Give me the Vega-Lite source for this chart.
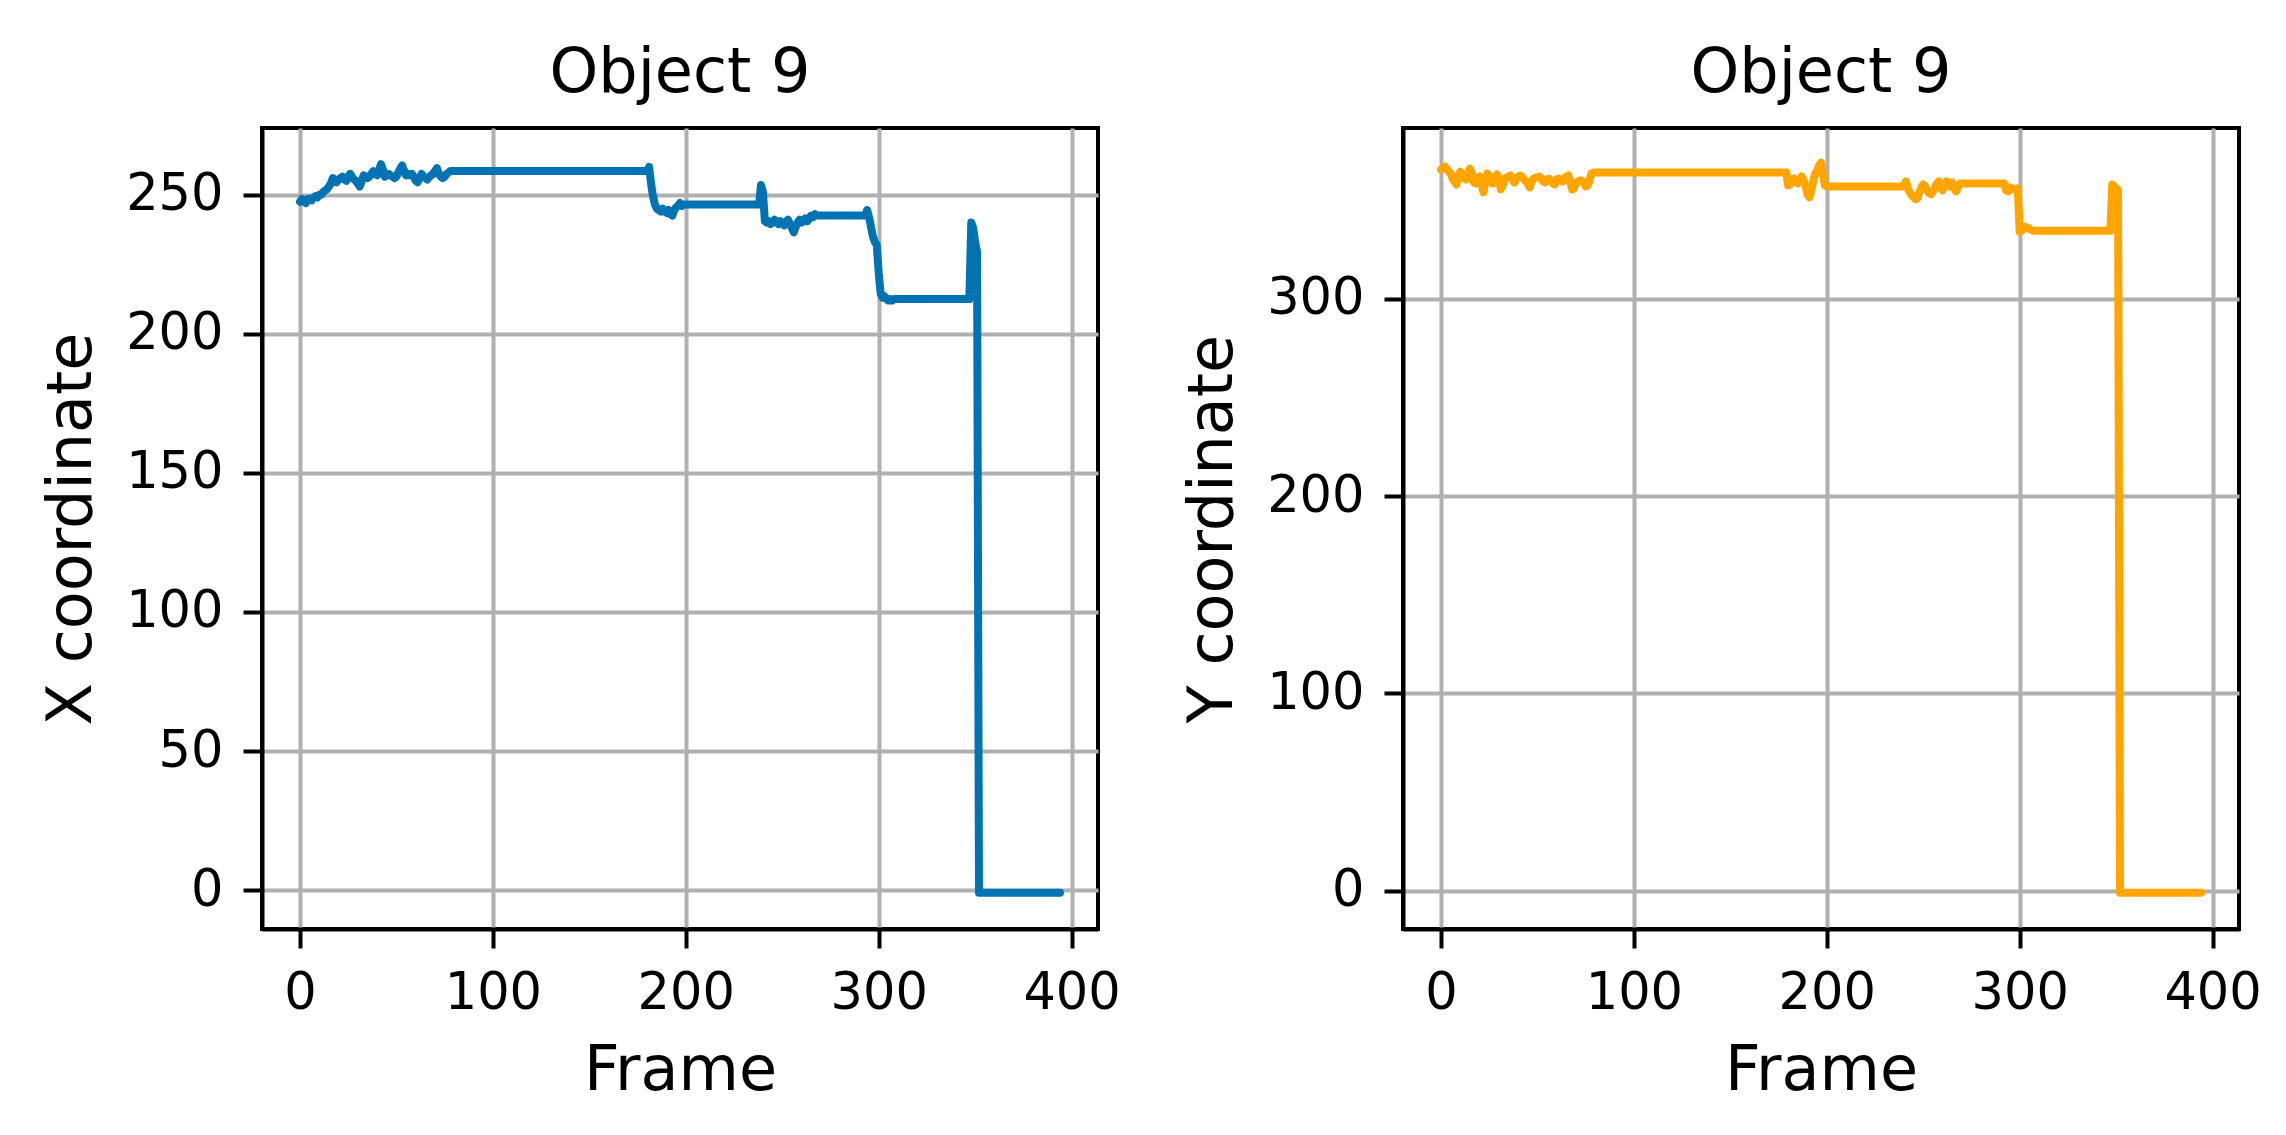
{
  "$schema": "https://vega.github.io/schema/vega-lite/v6.json",
  "background": "white",
  "padding": {"left": 38, "top": 40, "right": 0, "bottom": 0},
  "bounds": "flush",
  "spacing": 305,
  "data": {"values": [
    {"f":0,"x":247.5,"y":365.5},{"f":1,"x":248.5,"y":366},{"f":2,"x":248,"y":367},{"f":3,"x":247,"y":366},{"f":4,"x":248.5,"y":364.5},
    {"f":5,"x":248.5,"y":363.5},{"f":6,"x":248,"y":361},{"f":7,"x":249,"y":359.5},{"f":8,"x":249.5,"y":358},{"f":9,"x":249,"y":362},
    {"f":10,"x":250,"y":364.5},{"f":11,"x":250,"y":363.5},{"f":12,"x":251,"y":361},{"f":13,"x":251.5,"y":360.5},{"f":14,"x":252,"y":364},
    {"f":15,"x":253,"y":366},{"f":16,"x":254,"y":363.5},{"f":17,"x":256,"y":359},{"f":18,"x":255.5,"y":358.5},{"f":19,"x":254.5,"y":361.5},
    {"f":20,"x":255.5,"y":362},{"f":21,"x":256,"y":358},{"f":22,"x":256.5,"y":354},{"f":23,"x":255.5,"y":359},{"f":24,"x":255,"y":363.5},
    {"f":25,"x":256.5,"y":362.5},{"f":26,"x":257.5,"y":359},{"f":27,"x":256.5,"y":358.5},{"f":28,"x":255.5,"y":361.5},{"f":29,"x":255,"y":363},
    {"f":30,"x":254,"y":361},{"f":31,"x":253,"y":355.5},{"f":32,"x":255,"y":357.5},{"f":33,"x":257,"y":361},{"f":34,"x":256.5,"y":361.5},
    {"f":35,"x":256,"y":362},{"f":36,"x":256.5,"y":362.5},{"f":37,"x":257.5,"y":360.5},{"f":38,"x":258.5,"y":359},{"f":39,"x":257.5,"y":360.5},
    {"f":40,"x":257,"y":362},{"f":41,"x":259,"y":362.5},{"f":42,"x":261,"y":362},{"f":43,"x":259,"y":360.5},{"f":44,"x":256.5,"y":359.5},
    {"f":45,"x":257,"y":358.5},{"f":46,"x":257.5,"y":356.5},{"f":47,"x":257,"y":359.5},{"f":48,"x":256.5,"y":361},{"f":49,"x":256,"y":361.5},
    {"f":50,"x":256.5,"y":361.5},{"f":51,"x":258,"y":362},{"f":52,"x":259.5,"y":361},{"f":53,"x":260.5,"y":359.5},{"f":54,"x":258.5,"y":359},
    {"f":55,"x":257,"y":360.5},{"f":56,"x":257.5,"y":361},{"f":57,"x":257,"y":360},{"f":58,"x":257.5,"y":358.5},{"f":59,"x":256.5,"y":358},
    {"f":60,"x":255,"y":360.5},{"f":61,"x":254.5,"y":361},{"f":62,"x":256,"y":360},{"f":63,"x":257.5,"y":359.5},{"f":64,"x":256.5,"y":361},
    {"f":65,"x":256,"y":362},{"f":66,"x":255.5,"y":362.5},{"f":67,"x":256.5,"y":359},{"f":68,"x":257,"y":355.5},{"f":69,"x":257.5,"y":356},
    {"f":70,"x":258.5,"y":359},{"f":71,"x":259.5,"y":359.5},{"f":72,"x":257.5,"y":360},{"f":73,"x":256.5,"y":360},{"f":74,"x":256,"y":358.5},
    {"f":75,"x":256.5,"y":357},{"f":76,"x":257.5,"y":357.5},{"f":77,"x":258,"y":360},{"f":78,"x":258.5,"y":363.5},{"f":79,"x":258.5,"y":364},
    {"f":80,"x":258.5,"y":364},{"f":81,"x":258.5,"y":364},{"f":82,"x":258.5,"y":364},{"f":83,"x":258.5,"y":364},{"f":84,"x":258.5,"y":364},
    {"f":85,"x":258.5,"y":364},{"f":86,"x":258.5,"y":364},{"f":87,"x":258.5,"y":364},{"f":88,"x":258.5,"y":364},{"f":89,"x":258.5,"y":364},
    {"f":90,"x":258.5,"y":364},{"f":91,"x":258.5,"y":364},{"f":92,"x":258.5,"y":364},{"f":93,"x":258.5,"y":364},{"f":94,"x":258.5,"y":364},
    {"f":95,"x":258.5,"y":364},{"f":96,"x":258.5,"y":364},{"f":97,"x":258.5,"y":364},{"f":98,"x":258.5,"y":364},{"f":99,"x":258.5,"y":364},
    {"f":100,"x":258.5,"y":364},{"f":101,"x":258.5,"y":364},{"f":102,"x":258.5,"y":364},{"f":103,"x":258.5,"y":364},{"f":104,"x":258.5,"y":364},
    {"f":105,"x":258.5,"y":364},{"f":106,"x":258.5,"y":364},{"f":107,"x":258.5,"y":364},{"f":108,"x":258.5,"y":364},{"f":109,"x":258.5,"y":364},
    {"f":110,"x":258.5,"y":364},{"f":111,"x":258.5,"y":364},{"f":112,"x":258.5,"y":364},{"f":113,"x":258.5,"y":364},{"f":114,"x":258.5,"y":364},
    {"f":115,"x":258.5,"y":364},{"f":116,"x":258.5,"y":364},{"f":117,"x":258.5,"y":364},{"f":118,"x":258.5,"y":364},{"f":119,"x":258.5,"y":364},
    {"f":120,"x":258.5,"y":364},{"f":121,"x":258.5,"y":364},{"f":122,"x":258.5,"y":364},{"f":123,"x":258.5,"y":364},{"f":124,"x":258.5,"y":364},
    {"f":125,"x":258.5,"y":364},{"f":126,"x":258.5,"y":364},{"f":127,"x":258.5,"y":364},{"f":128,"x":258.5,"y":364},{"f":129,"x":258.5,"y":364},
    {"f":130,"x":258.5,"y":364},{"f":131,"x":258.5,"y":364},{"f":132,"x":258.5,"y":364},{"f":133,"x":258.5,"y":364},{"f":134,"x":258.5,"y":364},
    {"f":135,"x":258.5,"y":364},{"f":136,"x":258.5,"y":364},{"f":137,"x":258.5,"y":364},{"f":138,"x":258.5,"y":364},{"f":139,"x":258.5,"y":364},
    {"f":140,"x":258.5,"y":364},{"f":141,"x":258.5,"y":364},{"f":142,"x":258.5,"y":364},{"f":143,"x":258.5,"y":364},{"f":144,"x":258.5,"y":364},
    {"f":145,"x":258.5,"y":364},{"f":146,"x":258.5,"y":364},{"f":147,"x":258.5,"y":364},{"f":148,"x":258.5,"y":364},{"f":149,"x":258.5,"y":364},
    {"f":150,"x":258.5,"y":364},{"f":151,"x":258.5,"y":364},{"f":152,"x":258.5,"y":364},{"f":153,"x":258.5,"y":364},{"f":154,"x":258.5,"y":364},
    {"f":155,"x":258.5,"y":364},{"f":156,"x":258.5,"y":364},{"f":157,"x":258.5,"y":364},{"f":158,"x":258.5,"y":364},{"f":159,"x":258.5,"y":364},
    {"f":160,"x":258.5,"y":364},{"f":161,"x":258.5,"y":364},{"f":162,"x":258.5,"y":364},{"f":163,"x":258.5,"y":364},{"f":164,"x":258.5,"y":364},
    {"f":165,"x":258.5,"y":364},{"f":166,"x":258.5,"y":364},{"f":167,"x":258.5,"y":364},{"f":168,"x":258.5,"y":364},{"f":169,"x":258.5,"y":364},
    {"f":170,"x":258.5,"y":364},{"f":171,"x":258.5,"y":364},{"f":172,"x":258.5,"y":364},{"f":173,"x":258.5,"y":364},{"f":174,"x":258.5,"y":364},
    {"f":175,"x":258.5,"y":364},{"f":176,"x":258.5,"y":364},{"f":177,"x":258.5,"y":364},{"f":178,"x":258.5,"y":364},{"f":179,"x":258.5,"y":364},
    {"f":180,"x":258.5,"y":357.5},{"f":181,"x":260,"y":358},{"f":182,"x":254,"y":360.5},{"f":183,"x":249.5,"y":361},{"f":184,"x":246.5,"y":359.5},
    {"f":185,"x":245,"y":358.5},{"f":186,"x":244.5,"y":360},{"f":187,"x":244,"y":362},{"f":188,"x":245,"y":360},{"f":189,"x":244,"y":357},
    {"f":190,"x":243.5,"y":353},{"f":191,"x":244.5,"y":351.5},{"f":192,"x":243,"y":355},{"f":193,"x":242.5,"y":360},{"f":194,"x":244.5,"y":363.5},
    {"f":195,"x":245.5,"y":365},{"f":196,"x":246,"y":367.5},{"f":197,"x":247,"y":369},{"f":198,"x":246,"y":363},{"f":199,"x":246.5,"y":357.5},
    {"f":200,"x":246.5,"y":357},{"f":201,"x":246.5,"y":357},{"f":202,"x":246.5,"y":357},{"f":203,"x":246.5,"y":357},{"f":204,"x":246.5,"y":357},
    {"f":205,"x":246.5,"y":357},{"f":206,"x":246.5,"y":357},{"f":207,"x":246.5,"y":357},{"f":208,"x":246.5,"y":357},{"f":209,"x":246.5,"y":357},
    {"f":210,"x":246.5,"y":357},{"f":211,"x":246.5,"y":357},{"f":212,"x":246.5,"y":357},{"f":213,"x":246.5,"y":357},{"f":214,"x":246.5,"y":357},
    {"f":215,"x":246.5,"y":357},{"f":216,"x":246.5,"y":357},{"f":217,"x":246.5,"y":357},{"f":218,"x":246.5,"y":357},{"f":219,"x":246.5,"y":357},
    {"f":220,"x":246.5,"y":357},{"f":221,"x":246.5,"y":357},{"f":222,"x":246.5,"y":357},{"f":223,"x":246.5,"y":357},{"f":224,"x":246.5,"y":357},
    {"f":225,"x":246.5,"y":357},{"f":226,"x":246.5,"y":357},{"f":227,"x":246.5,"y":357},{"f":228,"x":246.5,"y":357},{"f":229,"x":246.5,"y":357},
    {"f":230,"x":246.5,"y":357},{"f":231,"x":246.5,"y":357},{"f":232,"x":246.5,"y":357},{"f":233,"x":246.5,"y":357},{"f":234,"x":246.5,"y":357},
    {"f":235,"x":246.5,"y":357},{"f":236,"x":246.5,"y":357},{"f":237,"x":246.5,"y":357},{"f":238,"x":246.5,"y":357},{"f":239,"x":253.5,"y":357},
    {"f":240,"x":251,"y":357},{"f":241,"x":240.5,"y":359.5},{"f":242,"x":240,"y":356},{"f":243,"x":240.5,"y":354},{"f":244,"x":239.5,"y":352.5},
    {"f":245,"x":240,"y":351.5},{"f":246,"x":241,"y":350.5},{"f":247,"x":240,"y":351},{"f":248,"x":239.5,"y":354},{"f":249,"x":240.5,"y":356.5},
    {"f":250,"x":240,"y":358},{"f":251,"x":239,"y":357},{"f":252,"x":240.5,"y":355},{"f":253,"x":241,"y":353.5},{"f":254,"x":239.5,"y":353},
    {"f":255,"x":238,"y":354.5},{"f":256,"x":236.5,"y":356},{"f":257,"x":238.5,"y":358.5},{"f":258,"x":240,"y":359.5},{"f":259,"x":241,"y":357},
    {"f":260,"x":240,"y":355},{"f":261,"x":240.5,"y":357},{"f":262,"x":241.5,"y":359.5},{"f":263,"x":240.5,"y":358},{"f":264,"x":241.5,"y":357},
    {"f":265,"x":242.5,"y":359},{"f":266,"x":242,"y":356},{"f":267,"x":243,"y":354.5},{"f":268,"x":242.5,"y":356.5},{"f":269,"x":242.5,"y":358.5},
    {"f":270,"x":242.5,"y":358.5},{"f":271,"x":242.5,"y":358.5},{"f":272,"x":242.5,"y":358.5},{"f":273,"x":242.5,"y":358.5},{"f":274,"x":242.5,"y":358.5},
    {"f":275,"x":242.5,"y":358.5},{"f":276,"x":242.5,"y":358.5},{"f":277,"x":242.5,"y":358.5},{"f":278,"x":242.5,"y":358.5},{"f":279,"x":242.5,"y":358.5},
    {"f":280,"x":242.5,"y":358.5},{"f":281,"x":242.5,"y":358.5},{"f":282,"x":242.5,"y":358.5},{"f":283,"x":242.5,"y":358.5},{"f":284,"x":242.5,"y":358.5},
    {"f":285,"x":242.5,"y":358.5},{"f":286,"x":242.5,"y":358.5},{"f":287,"x":242.5,"y":358.5},{"f":288,"x":242.5,"y":358.5},{"f":289,"x":242.5,"y":358.5},
    {"f":290,"x":242.5,"y":358.5},{"f":291,"x":242.5,"y":358.5},{"f":292,"x":242.5,"y":358.5},{"f":293,"x":242.5,"y":355},{"f":294,"x":244.5,"y":354.5},
    {"f":295,"x":242,"y":356.5},{"f":296,"x":238.5,"y":356},{"f":297,"x":235,"y":355.5},{"f":298,"x":233,"y":355},{"f":299,"x":232,"y":356},
    {"f":300,"x":222,"y":334},{"f":301,"x":214.5,"y":334.5},{"f":302,"x":213,"y":336},{"f":303,"x":213.5,"y":336.5},{"f":304,"x":212.5,"y":336},
    {"f":305,"x":212,"y":335.5},{"f":306,"x":212.5,"y":335},{"f":307,"x":212,"y":334.5},{"f":308,"x":212.5,"y":334.5},{"f":309,"x":212.5,"y":334.5},
    {"f":310,"x":212.5,"y":334.5},{"f":311,"x":212.5,"y":334.5},{"f":312,"x":212.5,"y":334.5},{"f":313,"x":212.5,"y":334.5},{"f":314,"x":212.5,"y":334.5},
    {"f":315,"x":212.5,"y":334.5},{"f":316,"x":212.5,"y":334.5},{"f":317,"x":212.5,"y":334.5},{"f":318,"x":212.5,"y":334.5},{"f":319,"x":212.5,"y":334.5},
    {"f":320,"x":212.5,"y":334.5},{"f":321,"x":212.5,"y":334.5},{"f":322,"x":212.5,"y":334.5},{"f":323,"x":212.5,"y":334.5},{"f":324,"x":212.5,"y":334.5},
    {"f":325,"x":212.5,"y":334.5},{"f":326,"x":212.5,"y":334.5},{"f":327,"x":212.5,"y":334.5},{"f":328,"x":212.5,"y":334.5},{"f":329,"x":212.5,"y":334.5},
    {"f":330,"x":212.5,"y":334.5},{"f":331,"x":212.5,"y":334.5},{"f":332,"x":212.5,"y":334.5},{"f":333,"x":212.5,"y":334.5},{"f":334,"x":212.5,"y":334.5},
    {"f":335,"x":212.5,"y":334.5},{"f":336,"x":212.5,"y":334.5},{"f":337,"x":212.5,"y":334.5},{"f":338,"x":212.5,"y":334.5},{"f":339,"x":212.5,"y":334.5},
    {"f":340,"x":212.5,"y":334.5},{"f":341,"x":212.5,"y":334.5},{"f":342,"x":212.5,"y":334.5},{"f":343,"x":212.5,"y":334.5},{"f":344,"x":212.5,"y":334.5},
    {"f":345,"x":212.5,"y":334.5},{"f":346,"x":212.5,"y":334.5},{"f":347,"x":212.5,"y":334.5},{"f":348,"x":240,"y":358},{"f":349,"x":238,"y":357},
    {"f":350,"x":233,"y":356},{"f":351,"x":229.5,"y":355},{"f":352,"x":-1,"y":-1},{"f":353,"x":-1,"y":-1},{"f":354,"x":-1,"y":-1},
    {"f":355,"x":-1,"y":-1},{"f":356,"x":-1,"y":-1},{"f":357,"x":-1,"y":-1},{"f":358,"x":-1,"y":-1},{"f":359,"x":-1,"y":-1},
    {"f":360,"x":-1,"y":-1},{"f":361,"x":-1,"y":-1},{"f":362,"x":-1,"y":-1},{"f":363,"x":-1,"y":-1},{"f":364,"x":-1,"y":-1},
    {"f":365,"x":-1,"y":-1},{"f":366,"x":-1,"y":-1},{"f":367,"x":-1,"y":-1},{"f":368,"x":-1,"y":-1},{"f":369,"x":-1,"y":-1},
    {"f":370,"x":-1,"y":-1},{"f":371,"x":-1,"y":-1},{"f":372,"x":-1,"y":-1},{"f":373,"x":-1,"y":-1},{"f":374,"x":-1,"y":-1},
    {"f":375,"x":-1,"y":-1},{"f":376,"x":-1,"y":-1},{"f":377,"x":-1,"y":-1},{"f":378,"x":-1,"y":-1},{"f":379,"x":-1,"y":-1},
    {"f":380,"x":-1,"y":-1},{"f":381,"x":-1,"y":-1},{"f":382,"x":-1,"y":-1},{"f":383,"x":-1,"y":-1},{"f":384,"x":-1,"y":-1},
    {"f":385,"x":-1,"y":-1},{"f":386,"x":-1,"y":-1},{"f":387,"x":-1,"y":-1},{"f":388,"x":-1,"y":-1},{"f":389,"x":-1,"y":-1},
    {"f":390,"x":-1,"y":-1},{"f":391,"x":-1,"y":-1},{"f":392,"x":-1,"y":-1},{"f":393,"x":-1,"y":-1},{"f":394,"x":-1,"y":-1}
  ]},
  "hconcat": [
    {
      "width": 836,
      "height": 801,
      "title": "Object 9",
      "mark": {"type": "line", "color": "#0173B2", "strokeWidth": 8, "strokeJoin": "round", "strokeCap": "round"},
      "encoding": {
        "x": {"field": "f", "type": "quantitative", "title": "Frame",
              "scale": {"domain": [-19.7, 413.7], "nice": false, "zero": false},
              "axis": {"values": [0, 100, 200, 300, 400]}},
        "y": {"field": "x", "type": "quantitative", "title": "X coordinate",
              "scale": {"domain": [-14, 274], "nice": false, "zero": false},
              "axis": {"values": [0, 50, 100, 150, 200, 250]}}
      }
    },
    {
      "width": 836,
      "height": 801,
      "title": "Object 9",
      "mark": {"type": "line", "color": "#FFA500", "strokeWidth": 8, "strokeJoin": "round", "strokeCap": "round"},
      "encoding": {
        "x": {"field": "f", "type": "quantitative", "title": "Frame",
              "scale": {"domain": [-19.7, 413.7], "nice": false, "zero": false},
              "axis": {"values": [0, 100, 200, 300, 400]}},
        "y": {"field": "y", "type": "quantitative", "title": "Y coordinate",
              "scale": {"domain": [-19.4, 386.6], "nice": false, "zero": false},
              "axis": {"values": [0, 100, 200, 300]}}
      }
    }
  ],
  "config": {
    "font": "DejaVu Sans",
    "view": {"stroke": "black", "strokeWidth": 4},
    "axis": {
      "domain": true, "domainColor": "black", "domainWidth": 4,
      "grid": true, "gridColor": "#b0b0b0", "gridWidth": 4, "gridOpacity": 1,
      "ticks": true, "tickColor": "black", "tickWidth": 4, "tickSize": 19,
      "labelFont": "DejaVu Sans", "labelFontSize": 51, "labelColor": "black", "labelPadding": 20,
      "titleFont": "DejaVu Sans", "titleFontSize": 62, "titleFontWeight": "normal", "titleColor": "black", "titlePadding": 22
    },
    "title": {"font": "DejaVu Sans", "fontSize": 62, "fontWeight": "normal", "color": "black", "offset": 23, "baseline": "alphabetic", "frame": "group", "anchor": "middle"}
  }
}
